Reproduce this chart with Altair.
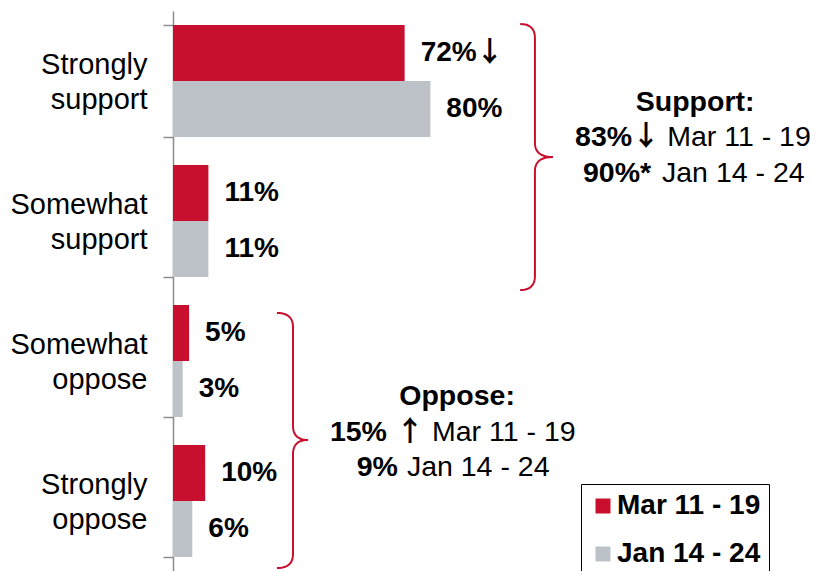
import altair as alt
import pandas as pd

categories = ["Strongly support", "Somewhat support", "Somewhat oppose", "Strongly oppose"]
series = ["Mar 11 - 19", "Jan 14 - 24"]
mar_values = [72, 11, 5, 10]
jan_values = [80, 11, 3, 6]
mar_labels = ["72%", "11%", "5%", "10%"]
jan_labels = ["80%", "11%", "3%", "6%"]
mar_arrows = ["↓", "", "", ""]
jan_arrows = ["", "", "", ""]
colors = ["#C8102E", "#BCC2C8"]

FONT = "Liberation Sans, Arial, sans-serif"
ARROW_FONT = "Noto Sans CJK JP"
W, H = 637, 560
XMAX = 198
PX = W / XMAX          # pixels per percentage point
STEP = H / 4           # pixels per category band

rows = []
for c, m, j, ml, jl, ma, ja in zip(categories, mar_values, jan_values, mar_labels,
                                   jan_labels, mar_arrows, jan_arrows):
    rows.append({"cat": c, "series": series[0], "value": m, "label": ml, "arrow": ma})
    rows.append({"cat": c, "series": series[1], "value": j, "label": jl, "arrow": ja})
df = pd.DataFrame(rows)

x_scale = alt.Scale(domain=[0, XMAX], nice=False, zero=True)
y_band = alt.Scale(domain=categories, paddingInner=0.2, paddingOuter=0.1)
pos_scale = alt.Scale(domain=[0, 4], reverse=True, nice=False, zero=False)

bars = alt.Chart(df).mark_bar().encode(
    x=alt.X("value:Q", scale=x_scale, axis=None),
    y=alt.Y("cat:N", scale=y_band, sort=categories, title=None,
            axis=alt.Axis(labelExpr="split(datum.label, ' ')", labelFontSize=29,
                          labelLineHeight=35, labelFont=FONT, labelColor="black",
                          labelPadding=16, tickSize=10, tickBand="extent",
                          tickColor="#8C8C8C", tickWidth=1.5, domainColor="#8C8C8C",
                          domainWidth=1.5, grid=False, labelAlign="right",
                          labelBaseline="middle", labelOffset=-17)),
    yOffset=alt.YOffset("series:N", sort=series),
    color=alt.Color("series:N", sort=series,
                    scale=alt.Scale(domain=series, range=colors),
                    legend=alt.Legend(title=None, orient="none", legendX=408, legendY=473,
                                      strokeColor="black", padding=8,
                                      symbolType="square", symbolSize=225,
                                      symbolStrokeWidth=0, labelFontSize=28,
                                      labelFont=FONT, labelFontWeight="bold",
                                      labelColor="black", rowPadding=20, labelOffset=0)),
)

value_text = alt.Chart(df).mark_text(
    align="left", baseline="middle", dx=16, fontSize=28, fontWeight="bold",
    font=FONT, color="black"
).encode(
    x=alt.X("value:Q", scale=x_scale, axis=None),
    y=alt.Y("cat:N", scale=y_band, sort=categories, axis=None),
    yOffset=alt.YOffset("series:N", sort=series),
    text="label:N",
)

value_arrow = alt.Chart(df).mark_text(
    align="left", baseline="middle", dx=71, dy=1, fontSize=28, fontWeight="bold",
    font=ARROW_FONT, color="black"
).encode(
    x=alt.X("value:Q", scale=x_scale, axis=None),
    y=alt.Y("cat:N", scale=y_band, sort=categories, axis=None),
    yOffset=alt.YOffset("series:N", sort=series),
    text="arrow:N",
)

# braces: spans in data units (x in %, y in category-band units)
brace_specs = [
    # name, x of vertical line, x of ends, x of tip, y top, y mid, y bottom
    ("support", 112.5, 107.9, 118.1, 0.093, 1.043, 1.993),
    ("oppose", 37.3, 32.3, 42.0, 2.157, 3.064, 3.979),
]


def quad(p0, c, p1, n=10):
    pts = []
    for i in range(n + 1):
        t = i / n
        x = (1 - t) ** 2 * p0[0] + 2 * (1 - t) * t * c[0] + t ** 2 * p1[0]
        y = (1 - t) ** 2 * p0[1] + 2 * (1 - t) * t * c[1] + t ** 2 * p1[1]
        pts.append((x, y))
    return pts


brace_rows = []
r = 14 / STEP
for name, xv, xe, xt, yt, ym, yb in brace_specs:
    pts = []
    pts += quad((xe, yt), (xv, yt), (xv, yt + r))
    pts += quad((xv, ym - r), (xv, ym), (xt, ym))
    pts += quad((xt, ym), (xv, ym), (xv, ym + r))
    pts += quad((xv, yb - r), (xv, yb), (xe, yb))
    for i, (x, y) in enumerate(pts):
        brace_rows.append({"brace": name, "order": i, "x": x, "y": y})
brace_df = pd.DataFrame(brace_rows)

braces = alt.Chart(brace_df).mark_line(color="#C8102E", strokeWidth=2).encode(
    x=alt.X("x:Q", scale=x_scale, axis=None),
    y=alt.Y("y:Q", scale=pos_scale, axis=None),
    detail="brace:N",
    order="order:Q",
)

annot = pd.DataFrame([
    {"t": "Support:", "x": 162.3, "y": 0.650, "w": "bold", "a": "center", "f": "text"},
    {"t": "83%", "x": 142.7, "y": 0.900, "w": "bold", "a": "right", "f": "text"},
    {"t": "↓", "x": 147.0, "y": 0.900, "w": "bold", "a": "center", "f": "arrow"},
    {"t": "Mar 11 - 19", "x": 153.6, "y": 0.900, "w": "normal", "a": "left", "f": "text"},
    {"t": "90%*", "x": 148.6, "y": 1.157, "w": "bold", "a": "right", "f": "text"},
    {"t": "Jan 14 - 24", "x": 152.0, "y": 1.157, "w": "normal", "a": "left", "f": "text"},
    {"t": "Oppose:", "x": 88.3, "y": 2.750, "w": "bold", "a": "center", "f": "text"},
    {"t": "15%", "x": 66.5, "y": 3.007, "w": "bold", "a": "right", "f": "text"},
    {"t": "↑", "x": 73.7, "y": 3.007, "w": "bold", "a": "center", "f": "arrow"},
    {"t": "Mar 11 - 19", "x": 80.5, "y": 3.007, "w": "normal", "a": "left", "f": "text"},
    {"t": "9%", "x": 69.9, "y": 3.257, "w": "bold", "a": "right", "f": "text"},
    {"t": "Jan 14 - 24", "x": 72.7, "y": 3.257, "w": "normal", "a": "left", "f": "text"},
])


def annot_layer(weight, align, fkind):
    sub = annot[(annot.w == weight) & (annot.a == align) & (annot.f == fkind)]
    font = ARROW_FONT if fkind == "arrow" else FONT
    size = 28 if fkind == "arrow" else 28.5
    return alt.Chart(sub).mark_text(
        align=align, baseline="middle", fontSize=size, fontWeight=weight,
        font=font, color="black", dy=1 if fkind == "arrow" else 0
    ).encode(
        x=alt.X("x:Q", scale=x_scale, axis=None),
        y=alt.Y("y:Q", scale=pos_scale, axis=None),
        text="t:N",
    )


annots = [annot_layer(w, a, f) for w, a, f in [("bold", "center", "text"),
                                               ("bold", "right", "text"),
                                               ("bold", "center", "arrow"),
                                               ("normal", "left", "text")]]

chart = alt.layer(bars, value_text, value_arrow, braces, *annots).resolve_scale(
    y="independent"
).properties(
    width=W, height=H,
    autosize=alt.AutoSizeParams(type="none"),
    padding={"left": 165, "top": 3, "right": 0, "bottom": 0},
    view=alt.ViewBackground(strokeWidth=0, stroke=None),
).configure_view(strokeWidth=0, stroke=None).configure_axis(
    grid=False
).configure(background="white")

chart.save("out.html", embed_options={"renderer": "svg", "actions": False})
